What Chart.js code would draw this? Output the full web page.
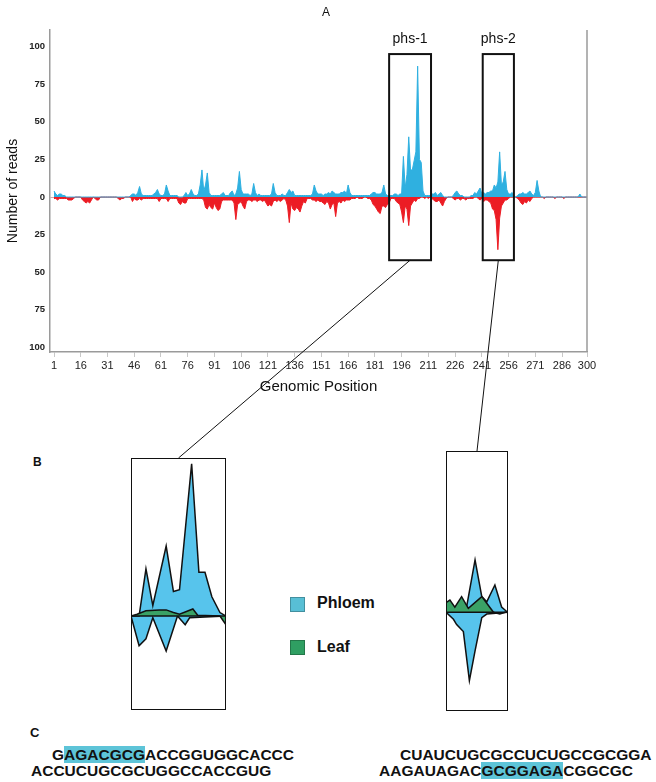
<!DOCTYPE html>
<html><head><meta charset="utf-8">
<script src="https://cdn.jsdelivr.net/npm/chart.js@4.4.1/dist/chart.umd.min.js"></script>
<style>
html,body{margin:0;padding:0;background:#fff;}
body{width:656px;height:782px;position:relative;overflow:hidden;font-family:Arial,"Liberation Sans",sans-serif;color:#111;}
#mainCanvas{position:absolute;left:0;top:0;}
.inset{position:absolute;}
.inset canvas{position:absolute;left:0;top:0;}
.inset::after{content:"";position:absolute;left:0;top:0;right:0;bottom:0;border:1.5px solid #111;pointer-events:none;}
.lbl{position:absolute;line-height:14px;}
.leg{position:absolute;font-weight:bold;font-size:16px;line-height:18px;}
.sw{position:absolute;width:13px;height:13px;border:1px solid rgba(0,0,0,0.25);}
.seq{position:absolute;font-weight:bold;font-size:15.5px;line-height:16px;white-space:nowrap;}
.hl{background:#5dc4d8;}
#overlay{position:absolute;left:0;top:0;pointer-events:none;}
</style>
</head><body>
<canvas id="mainCanvas" width="656" height="400"></canvas>
<div class="lbl" style="left:322px;top:5px;font-size:12px;">A</div>
<div class="lbl" style="left:33px;top:455px;font-size:12px;font-weight:bold;">B</div>
<div class="lbl" style="left:30px;top:726px;font-size:13px;font-weight:bold;">C</div>

<div class="inset" id="insetL" style="left:131px;top:458px;width:95px;height:252px;"><canvas id="cL" width="95" height="252"></canvas></div>
<div class="inset" id="insetR" style="left:446px;top:451px;width:62px;height:260px;"><canvas id="cR" width="62" height="260"></canvas></div>

<div class="sw" style="left:290px;top:597px;background:#58bfd5;"></div>
<div class="leg" style="left:317px;top:594px;">Phloem</div>
<div class="sw" style="left:290px;top:640px;background:#2f9f62;"></div>
<div class="leg" style="left:317px;top:638px;">Leaf</div>

<div class="seq" style="left:52px;top:747px;">G<span class="hl">AGACGCG</span>ACCGGUGGCACCC</div>
<div class="seq" style="left:31px;top:763px;">ACCUCUGCGCUGGCCACCGUG</div>
<div class="seq" style="left:400px;top:747px;">CUAUCUGCGCCUCUGCCGCGGA</div>
<div class="seq" style="left:379px;top:763px;">AAGAUAGAC<span class="hl">GCGGAGA</span>CGGCGC</div>

<svg id="overlay" width="656" height="782"></svg>

<script>
// ---------- DATA ----------
// Panel A: reads per genomic position (positions 1..300)
const sensePhloem = [
 4,2,1,2,2,1,1,0,0,0,
 0,0,0,0,0,0,0,0,0,0,
 0,0,0,0,0,0,0,0,0,0,
 0,0,0,0,0,0,0,0,0,0,
 0,0,0,1,2,2,1,3,7,2,
 1,1,1,1,1,1,2,3,5,2,
 1,1,2,8,4,1,1,1,1,1,
 0,0,0,1,3,1,2,5,2,1,
 1,2,8,18,4,8,16,3,1,1,
 1,1,1,1,2,3,1,1,1,3,
 4,1,2,6,17,5,2,2,2,2,
 1,2,9,3,1,2,1,1,1,1,
 1,1,2,9,3,1,1,1,2,1,
 1,3,5,3,4,1,1,1,1,1,
 1,1,1,1,1,2,8,4,2,2,
 2,1,2,2,3,2,4,3,2,2,
 2,3,3,4,2,8,3,1,1,1,
 1,1,1,1,1,1,1,1,2,3,
 3,2,2,2,3,8,2,1,1,1,
 1,2,2,1,2,2,27,6,15,40,
 18,18,24,30,87,25,23,4,1,1,
 1,1,2,2,3,1,2,3,1,0,
 0,0,0,0,1,3,4,2,1,1,
 0,0,0,0,1,1,3,2,4,6,
 2,3,2,3,3,4,4,8,6,10,
 30,8,10,17,5,2,2,3,1,0,
 1,2,2,3,2,2,3,4,2,1,
 3,11,4,0,0,0,0,0,0,0,
 0,0,0,0,0,0,0,0,0,0,
 0,0,0,0,0,2,0,0,0,0
];
const antisensePhloem = [
 -1,-1,-2,-1,-1,-1,-1,-1,-2,-2,
 -2,-1,0,0,0,0,-2,-3,-4,-3,
 -4,-2,0,-1,-2,-2,0,0,0,0,
 0,0,0,0,0,0,-1,-2,-1,-1,
 0,0,0,0,-3,-1,-2,-2,-1,-2,
 -1,-1,-1,-1,-1,-1,-1,-1,-1,-3,
 -1,-1,-1,-1,-3,-1,-1,-1,-1,-1,
 -4,-5,-3,-4,-4,-1,-1,-1,-1,-1,
 -1,-1,-1,-1,-2,-7,-8,-5,-7,-8,
 -4,-7,-9,-8,-3,-2,-2,-2,-2,-2,
 -2,-4,-15,-5,-4,-3,-6,-8,-3,-2,
 -2,-3,-2,-2,-3,-2,-2,-3,-2,-4,
 -6,-5,-6,-3,-2,-3,-2,-3,-2,-1,
 -2,-6,-17,-4,-8,-9,-7,-8,-10,-6,
 -3,-4,-1,-1,-1,-2,-2,-3,-2,-3,
 -3,-4,-5,-3,-4,-8,-5,-4,-13,-4,
 -3,-4,-2,-3,-2,-2,-2,-1,-1,-1,
 0,-1,-1,-1,0,0,-1,-1,-2,-5,
 -6,-8,-10,-11,-6,-6,-7,-5,-4,-1,
 -1,-1,-3,-4,-5,-10,-17,-6,-8,-19,
 -6,-4,-2,-3,-1,-1,0,0,-1,0,
 -1,0,-1,-2,-3,-3,-2,-4,-6,-3,
 -1,0,0,0,-1,-2,-1,-1,-2,-1,
 -1,-2,-1,-1,-1,-1,0,0,-1,-2,
 -1,-3,-2,-2,-3,-4,-8,-9,-15,-35,
 -14,-6,-4,-2,-2,-1,0,0,0,0,
 -1,-2,-4,-5,-3,-4,-2,-3,-1,0,
 0,0,0,0,0,-1,0,0,0,0,
 0,-1,0,0,0,0,-1,0,0,0,
 0,0,0,0,0,0,0,0,0,0
];
const positions = sensePhloem.map((_, i) => i + 1);
const xTickLabels = [1,16,31,46,61,76,91,106,121,136,151,166,181,196,211,226,241,256,271,286,300];
const yTickLabels = [-100,-75,-50,-25,0,25,50,75,100];
const regionLabels = ['phs-1', 'phs-2'];
const regionStart = [189, 241.5];
const regionEnd = [212.5, 259];
const regionTop = 95, regionBottom = -42;

// Panel B, phs-1 inset (Phloem vs Leaf)
const l_phUpPos = [189,191,192.7,194.4,197.7,199.5,201,204,205.8,207.3,209,211,212.5];
const l_phUp    = [0,0,27,6,40,14,15,87,25,25,11,2,0];
const l_phDnPos = [189,191,192.7,194.4,197.7,200.5,202.4,203.5,212.5];
const l_phDn    = [0,-17,-13,-1,-20,0,-5,-1,0];
const l_leafPos = [189,190.5,192.7,196,197.7,199.5,201,204.3,205.5,211,212.5];
const l_leaf    = [0,1,3,3.5,3.5,2,1,4,0.5,0,-5];
// Panel B, phs-2 inset
const r_phUpPos = [241.5,245,247.3,249.7,251.6,253,255.3,257.2,258.9,259];
const r_phUp    = [0,2,3,30,9,6,15.6,3,0,0];
const r_phDnPos = [241.5,243.6,244.5,246.4,248.1,249.7,251.6,253,259];
const r_phDn    = [0,-4,-7,-11,-39,-22,-3,-1,0];
const r_leafPos = [241.5,242.6,244,245.9,247.8,251.6,254.9,256.7,258.2,259];
const r_leaf    = [5.5,7,3,9,2.3,9,0,-1,0,0];

// ---------- CHARTS ----------
const FONT = 'Arial, "Liberation Sans", sans-serif';
const pts = (xs, ys) => xs.map((x, i) => ({x: x, y: ys[i]}));

const regionPlugin = {
  id: 'regions',
  afterDatasetsDraw(chart) {
    const {ctx, scales: {x, y}, chartArea} = chart;
    ctx.save();
    ctx.strokeStyle = '#9a9a9a'; ctx.lineWidth = 1.5;
    ctx.beginPath(); ctx.moveTo(chartArea.right, chartArea.top); ctx.lineTo(chartArea.right, chartArea.bottom); ctx.stroke();
    regionLabels.forEach((lab, i) => {
      const x1 = x.getPixelForValue(regionStart[i]), x2 = x.getPixelForValue(regionEnd[i]);
      const y1 = y.getPixelForValue(regionTop), y2 = y.getPixelForValue(regionBottom);
      ctx.strokeStyle = '#111'; ctx.lineWidth = 2;
      ctx.strokeRect(x1, y1, x2 - x1, y2 - y1);
      ctx.fillStyle = '#111'; ctx.font = '14px ' + FONT; ctx.textAlign = 'center'; ctx.textBaseline = 'middle';
      ctx.fillText(lab, (x1 + x2) / 2, y1 - 15);
    });
    ctx.restore();
  }
};

const mainChart = new Chart(document.getElementById('mainCanvas'), {
  type: 'line',
  data: { datasets: [
    { label: 'sense', data: pts(positions, sensePhloem), fill: 'origin', backgroundColor: '#2fb0e0', borderColor: '#2fb0e0', borderWidth: 1, pointRadius: 0, tension: 0 },
    { label: 'antisense', data: pts(positions, antisensePhloem), fill: 'origin', backgroundColor: '#ec1c24', borderColor: '#ec1c24', borderWidth: 1, pointRadius: 0, tension: 0 }
  ]},
  options: {
    responsive: false, animation: false,
    layout: { padding: { top: 30, right: 69, left: 0, bottom: 0 } },
    plugins: { legend: { display: false }, tooltip: { enabled: false } },
    scales: {
      x: {
        type: 'linear', min: -1.25, max: 300,
        afterBuildTicks: s => { s.ticks = xTickLabels.map(v => ({ value: v })); },
        afterFit: s => { s.height = 48; },
        ticks: { font: { size: 11, family: FONT }, color: '#222', padding: 2, maxRotation: 0, autoSkip: false, callback: v => v },
        grid: { drawOnChartArea: false, tickLength: 5, color: '#c8c8c8' },
        border: { display: true, color: '#9a9a9a', width: 1.5 },
        title: { display: true, text: 'Genomic Position', font: { size: 15, family: FONT }, color: '#111', padding: { top: 0, bottom: 4 } }
      },
      y: {
        min: -103, max: 111,
        afterBuildTicks: s => { s.ticks = yTickLabels.map(v => ({ value: v })); },
        afterFit: s => { s.width = 50; },
        ticks: { font: { size: 9.5, weight: 'bold', family: FONT }, color: '#222', padding: 5, callback: v => Math.abs(v) },
        grid: { drawTicks: false, lineWidth: 1, color: c => (c.tick && c.tick.value === 0) ? 'rgba(200,165,165,0.9)' : 'rgba(0,0,0,0)' },
        border: { display: true, color: '#9a9a9a', width: 1.5 },
        title: { display: true, text: 'Number of reads', font: { size: 14, family: FONT }, color: '#111', padding: { top: 5, bottom: 0 } }
      }
    }
  },
  plugins: [regionPlugin]
});

const zeroLine = {
  id: 'zeroLine',
  afterDatasetsDraw(chart) {
    const {ctx, scales: {y}, chartArea} = chart;
    const y0 = y.getPixelForValue(0);
    ctx.save(); ctx.strokeStyle = '#111'; ctx.lineWidth = 1.5;
    ctx.beginPath(); ctx.moveTo(chartArea.left, y0); ctx.lineTo(chartArea.right, y0); ctx.stroke(); ctx.restore();
  }
};

function inset(id, xmin, xmax, ymin, ymax, leafXY, upXY, dnXY) {
  const ds = (data, color) => ({ data: data, fill: 'origin', backgroundColor: color, borderColor: '#111', borderWidth: 1.5, pointRadius: 0, tension: 0 });
  return new Chart(document.getElementById(id), {
    type: 'line',
    data: { datasets: [ ds(leafXY, '#3aa266'), ds(upXY, '#57c4ec'), ds(dnXY, '#57c4ec') ] },
    options: {
      responsive: false, animation: false,
      layout: { padding: 0 },
      plugins: { legend: { display: false }, tooltip: { enabled: false } },
      scales: {
        x: { type: 'linear', display: false, min: xmin, max: xmax },
        y: { display: false, min: ymin, max: ymax }
      }
    },
    plugins: [zeroLine]
  });
}
const insetL = inset('cL', 189, 212.5, -53.7, 90.3, pts(l_leafPos, l_leaf), pts(l_phUpPos, l_phUp), pts(l_phDnPos, l_phDn));
const insetR = inset('cR', 241.5, 259, -56.4, 92.2, pts(r_leafPos, r_leaf), pts(r_phUpPos, r_phUp), pts(r_phDnPos, r_phDn));

// ---------- connector lines (from region boxes to insets) ----------
const svg = document.getElementById('overlay');
['insetL', 'insetR'].forEach((id, i) => {
  const el = document.getElementById(id);
  const xs = mainChart.scales.x, ys = mainChart.scales.y;
  const x1 = (xs.getPixelForValue(regionStart[i]) + xs.getPixelForValue(regionEnd[i])) / 2;
  const y1 = ys.getPixelForValue(regionBottom);
  const x2 = el.offsetLeft + el.offsetWidth / 2;
  const y2 = el.offsetTop;
  const ln = document.createElementNS('http://www.w3.org/2000/svg', 'line');
  ln.setAttribute('x1', x1); ln.setAttribute('y1', y1); ln.setAttribute('x2', x2); ln.setAttribute('y2', y2);
  ln.setAttribute('stroke', '#111'); ln.setAttribute('stroke-width', '1');
  svg.appendChild(ln);
});
</script>
</body></html>
